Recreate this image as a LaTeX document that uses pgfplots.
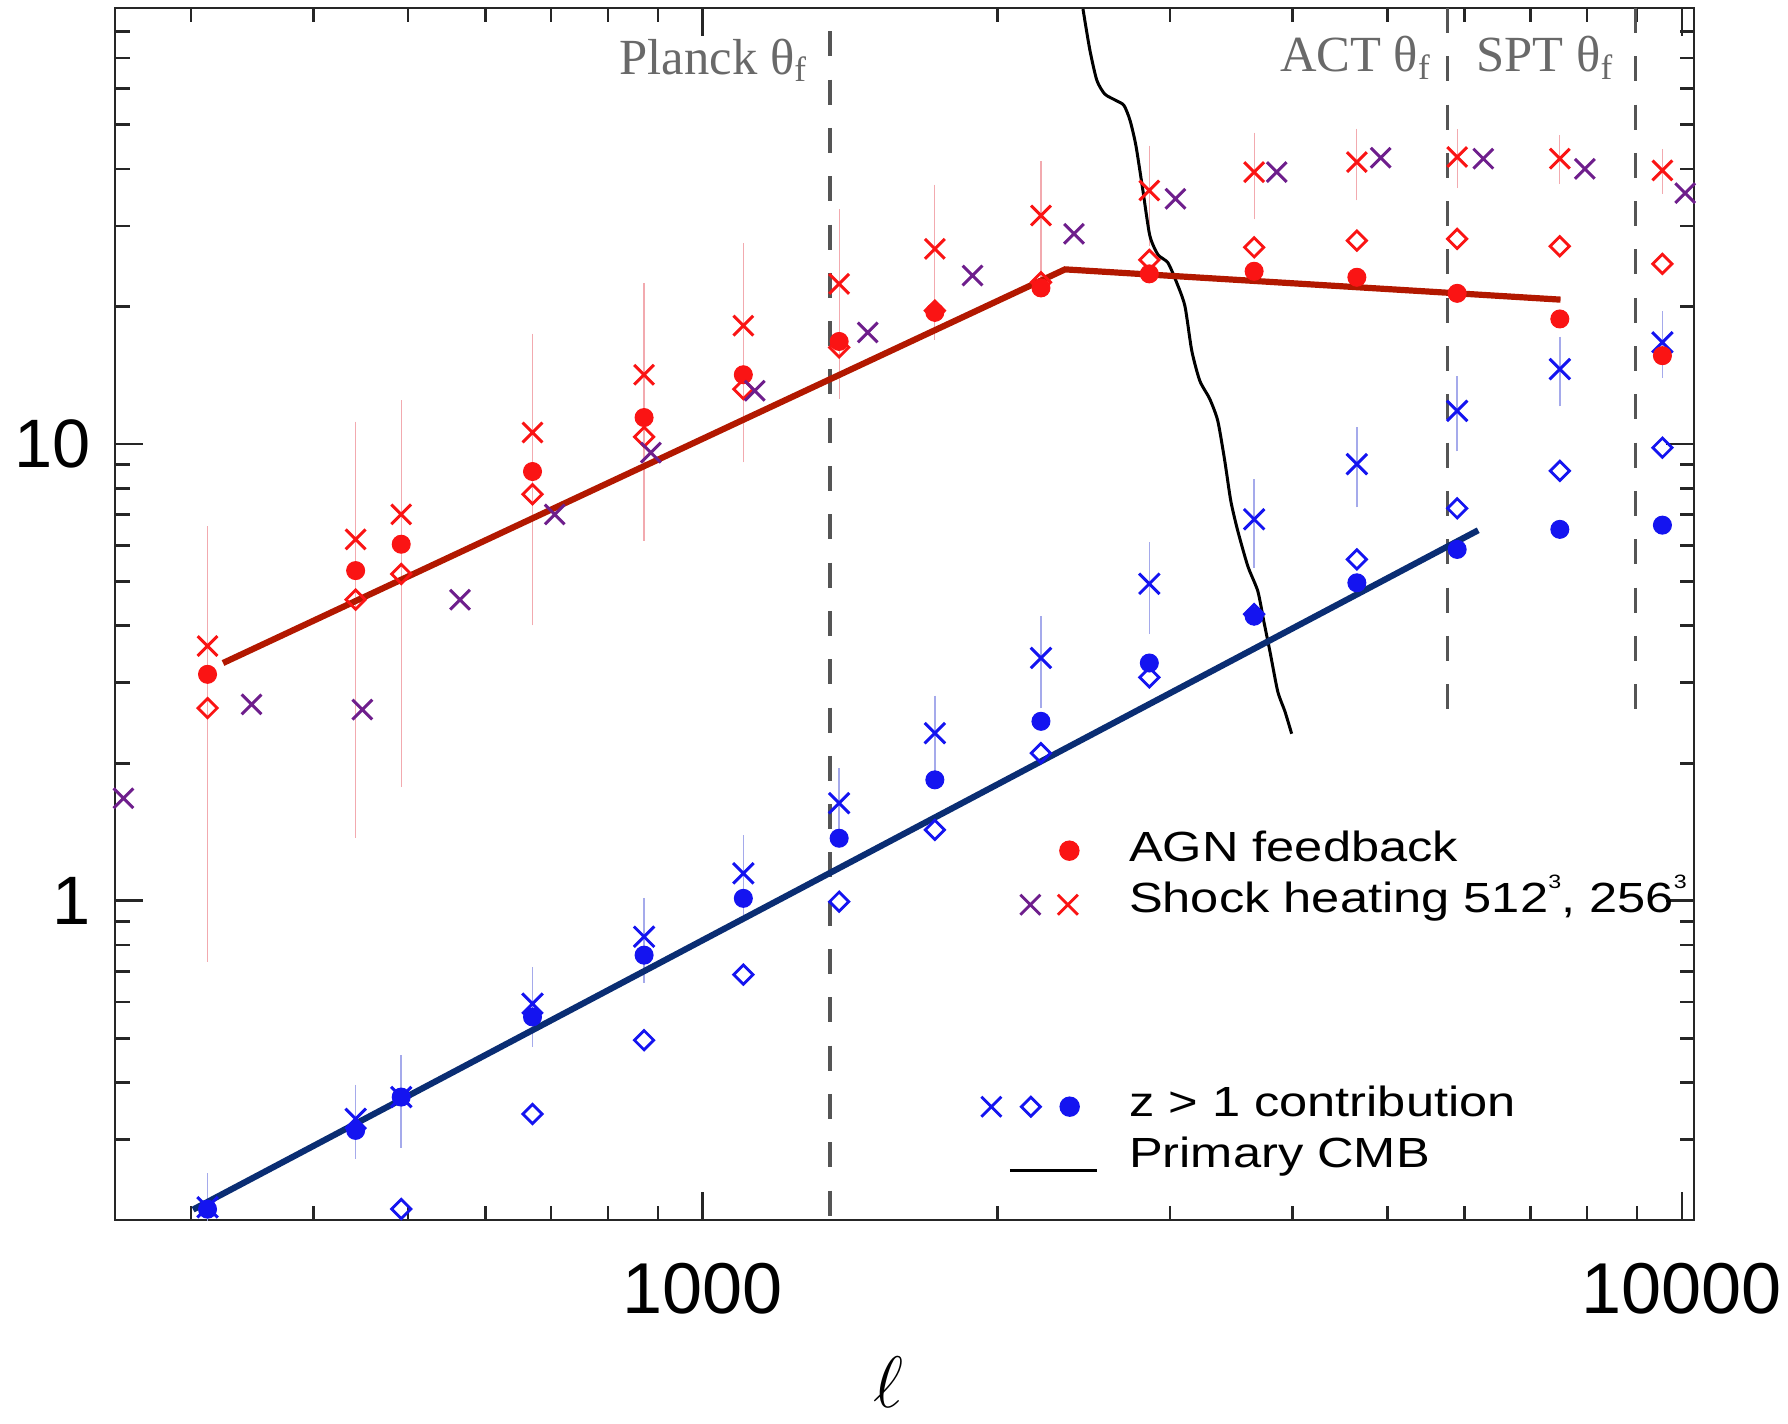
\documentclass[border=0pt]{standalone}
\usepackage{fontspec}
\setmainfont{Liberation Sans}
\newfontfamily\legfont[FakeStretch=1.2]{Liberation Sans}
\newfontfamily\serfont{Liberation Serif}
\usepackage{pgfplots}
\pgfplotsset{compat=1.18}
\definecolor{myred}{RGB}{250,20,20}
\definecolor{mypurple}{RGB}{110,30,140}
\definecolor{myblue}{RGB}{20,20,240}
\definecolor{linered}{RGB}{178,24,0}
\definecolor{lineblue}{RGB}{10,45,115}
\definecolor{errred}{RGB}{242,170,175}
\definecolor{errblue}{RGB}{165,170,235}
\definecolor{dashgray}{RGB}{85,85,85}
\definecolor{txtgray}{RGB}{105,105,105}
\newcommand{\supthree}{\raisebox{1.1ex}{\fontsize{5.5}{5.5}\selectfont 3}}
\begin{document}
\begin{tikzpicture}
\begin{axis}[
  name=ax, at={(0,0)}, anchor=south west,
  width=157.9mm, height=121.2mm, scale only axis,
  xmode=log, ymode=log,
  xmin=251, xmax=10290, ymin=0.2, ymax=90,
  xtick={1000,10000}, xticklabels={1000,10000},
  ytick={1,10}, yticklabels={1,10},
  minor xtick={300,400,500,600,700,800,900,2000,3000,4000,5000,6000,7000,8000,9000},
  minor ytick={0.3,0.4,0.5,0.6,0.7,0.8,0.9,2,3,4,5,6,7,8,9,20,30,40,50,60,70,80},
  tick align=inside,
  major tick length=2.8mm, minor tick length=1.45mm,
  axis line style={line width=0.27mm, black!85},
  every tick/.style={line width=0.27mm, black!85},
  xticklabel style={font=\fontsize{20.5}{20.5}\selectfont, inner sep=0pt, yshift=-4.25mm},
  yticklabel style={font=\fontsize{19.5}{19.5}\selectfont, inner sep=0pt, xshift=-2.4mm},
  xlabel={$\ell$},
  every axis x label/.style={at={(rel axis cs:0.490,0)}, anchor=north, yshift=-13.6mm, inner sep=0pt, font=\fontsize{22}{22}\selectfont},
  legend style={draw=none, fill=none, inner sep=0pt, at={(0.5446,0.3243)}, anchor=north west,
    /tikz/column sep=0pt, /tikz/row sep=0pt,
    nodes={inner sep=0pt, text height=3.4mm, text depth=1.7mm, font=\legfont\fontsize{12}{12}\selectfont}},
  legend cell align=left,
]
% vertical dashed lines
\addplot[forget plot, dashgray, line width=0.35mm, dash pattern=on 2.5mm off 2.33mm] coordinates {(1348,80) (1348,0.2)};
\addplot[forget plot, dashgray, line width=0.35mm, dash pattern=on 2.5mm off 2.33mm] coordinates {(5763,90) (5763,2.49)};
\addplot[forget plot, dashgray, line width=0.35mm, dash pattern=on 2.5mm off 2.33mm] coordinates {(8968,90) (8968,2.49)};

% blue z>1: diamonds
\addplot[forget plot, only marks, myblue, mark=square, mark size=0.68mm, mark options={rotate=45, line width=0.28mm}] coordinates {
(492,0.2114) (670,0.3414) (871,0.495) (1100,0.689) (1378,0.995) (1726,1.429) (2215,2.104) (2858,3.083) (3657,4.24) (4656,5.585) (5895,7.228) (7506,8.73) (9552,9.81)};
% blue circles
\addplot[forget plot, only marks, myblue, mark=*, mark size=0.9mm, mark options={line width=0.1mm}] coordinates {
(312,0.2112) (442,0.3142) (492,0.3717) (670,0.5566) (871,0.760) (1100,1.012) (1378,1.37) (1726,1.839) (2215,2.47) (2858,3.314) (3657,4.196) (4656,4.965) (5895,5.875) (7506,6.50) (9552,6.64)};
% blue x with error bars
\addplot[forget plot, only marks, myblue, mark=x, mark size=1.45mm, mark options={line width=0.3mm},
  error bars/.cd, y dir=both, y explicit,
  error bar style={errblue, line width=0.15mm}, error mark options={errblue, line width=0.15mm, mark size=0.4mm}] coordinates {
(312,0.2133) +- (0,0.035)
(442,0.333) +- (0,0.055)
(492,0.3717) +- (0,0.078)
(670,0.595) +- (0,0.106)
(871,0.834) +- (0,0.16)
(1100,1.148) +- (0,0.215)
(1378,1.635) +- (0,0.28)
(1726,2.327) +- (0,0.43)
(2215,3.40) +- (0,0.71)
(2858,4.94) +- (0,1.03)
(3657,6.84) +- (0,1.37)
(4656,9.03) +- (0,1.62)
(5895,11.81) +- (0,1.98)
(7506,14.58) +- (0,2.25)
(9552,16.68) +- (0,2.46)};

% red shock heating 256^3 with error bars
\addplot[forget plot, only marks, myred, mark=x, mark size=1.4mm, mark options={line width=0.3mm},
  error bars/.cd, y dir=both, y explicit,
  error bar style={errred, line width=0.12mm}, error mark options={errred, line width=0.12mm, mark size=0.4mm}] coordinates {
(312,3.61) +- (0,2.86)
(442,6.18) +- (0,4.78)
(492,7.01) +- (0,5.2)
(670,10.59) +- (0,6.5)
(871,14.17) +- (0,7.9)
(1100,18.15) +- (0,8.85)
(1378,22.4) +- (0,9.6)
(1726,26.73) +- (0,9.5)
(2215,31.62) +- (0,9.1)
(2858,35.87) +- (0,8.2)
(3657,39.36) +- (0,7.7)
(4656,41.4) +- (0,6.6)
(5895,42.46) +- (0,5.4)
(7506,42.1) +- (0,4.3)
(9552,39.7) +- (0,3.65)};
% red diamonds
\addplot[forget plot, only marks, myred, mark=square, mark size=0.68mm, mark options={rotate=45, line width=0.28mm}] coordinates {
(312,2.64) (442,4.56) (492,5.19) (670,7.76) (871,10.36) (1100,13.18) (1378,16.26) (1726,19.57) (2215,22.58) (2858,25.28) (3657,26.94) (4656,27.87) (5895,28.11) (7506,27.08) (9552,24.78)};
% red AGN circles
\addplot[forget plot, only marks, myred, mark=*, mark size=0.9mm, mark options={line width=0.1mm}] coordinates {
(312,3.13) (442,5.28) (492,6.03) (670,8.70) (871,11.42) (1100,14.17) (1378,16.76) (1726,19.41) (2215,21.95) (2858,23.56) (3657,23.87) (4656,23.16) (5895,21.36) (7506,18.77) (9552,15.6)};
% purple shock heating 512^3
\addplot[forget plot, only marks, mypurple, mark=x, mark size=1.4mm, mark options={line width=0.3mm}] coordinates {
(256,1.676) (346,2.69) (449,2.62) (565,4.56) (706,7.01) (885,9.57) (1130,13.07) (1474,17.54) (1886,23.36) (2394,28.83) (3039,34.4) (3857,39.36) (4924,42.3) (6269,42.1) (7960,40.0) (10078,35.4)};

% primary CMB
\addplot[forget plot, black, line width=0.3mm, smooth, tension=0.4] coordinates {
(2445,89.5) (2485,72.8) (2526,62.5) (2574,58.3) (2641,56.5) (2692,55.1) (2731,51.1) (2769,45.0) (2815,35.9) (2861,28.6) (2916,25.97) (2985,24.94) (3042,22.78) (3107,20.07) (3158,16.0) (3218,13.75) (3294,12.55) (3357,11.23) (3413,9.18) (3462,7.50) (3519,6.45) (3603,5.40) (3689,4.76) (3741,4.09) (3795,3.52) (3866,2.87) (3931,2.60) (3995,2.32)};

% fit lines
\addplot[forget plot, linered, line width=0.62mm] coordinates {(323.6,3.314) (2344,24.1) (7518,20.69)};
\addplot[forget plot, lineblue, line width=0.62mm] coordinates {(301.6,0.2108) (6194,6.47)};

% legend
\addlegendimage{legend image code/.code={
  \path (0mm,0mm) (15.2mm,0mm);
  \fill[myred] (9.3mm,0.25mm) circle (0.95mm);}}
\addlegendentry{AGN feedback}
\addlegendimage{legend image code/.code={
  \path (0mm,0mm) (15.2mm,0mm);
  \draw[mypurple, line width=0.28mm] (4.4mm,-1.05mm) -- (6.4mm,0.95mm) (4.4mm,0.95mm) -- (6.4mm,-1.05mm);
  \draw[myred, line width=0.28mm] (8.15mm,-1.05mm) -- (10.15mm,0.95mm) (8.15mm,0.95mm) -- (10.15mm,-1.05mm);}}
\addlegendentry{Shock heating 512\supthree, 256\supthree}
\addlegendimage{legend image code/.code={\path (0mm,0mm) (15.2mm,0mm);}}
\addlegendentry{}
\addlegendimage{legend image code/.code={\path (0mm,0mm) (15.2mm,0mm);}}
\addlegendentry{}
\addlegendimage{legend image code/.code={\path (0mm,0mm) (15.2mm,0mm);}}
\addlegendentry{}
\addlegendimage{legend image code/.code={
  \path (0mm,0mm) (15.2mm,0mm);
  \draw[myblue, line width=0.28mm] (0.5mm,-0.85mm) -- (2.5mm,1.15mm) (0.5mm,1.15mm) -- (2.5mm,-0.85mm);
  \draw[myblue, line width=0.28mm] (5.45mm,-0.8mm) -- (6.4mm,0.15mm) -- (5.45mm,1.1mm) -- (4.5mm,0.15mm) -- cycle;
  \fill[myblue] (9.33mm,0.15mm) circle (0.95mm);}}
\addlegendentry{z > 1 contribution}
\addlegendimage{legend image code/.code={
  \path (0mm,0mm) (15.2mm,0mm);
  \draw[black, line width=0.3mm] (3.35mm,-1.15mm) -- (12.1mm,-1.15mm);}}
\addlegendentry{Primary CMB}

% region labels
\node[anchor=base west, inner sep=0pt, font=\serfont\fontsize{14.4}{14.4}\selectfont, text=txtgray] at (axis cs:821,64.5) {Planck θ\textsubscript{f}};
\node[anchor=base west, inner sep=0pt, font=\serfont\fontsize{14.4}{14.4}\selectfont, text=txtgray] at (axis cs:3881,65.3) {ACT θ\textsubscript{f}};
\node[anchor=base west, inner sep=0pt, font=\serfont\fontsize{14.4}{14.4}\selectfont, text=txtgray] at (axis cs:6160,65.3) {SPT θ\textsubscript{f}};
\end{axis}
\pgfresetboundingbox
\useasboundingbox (-11.5mm,-20.3mm) rectangle (167.3mm,122.0mm);
\end{tikzpicture}
\end{document}
